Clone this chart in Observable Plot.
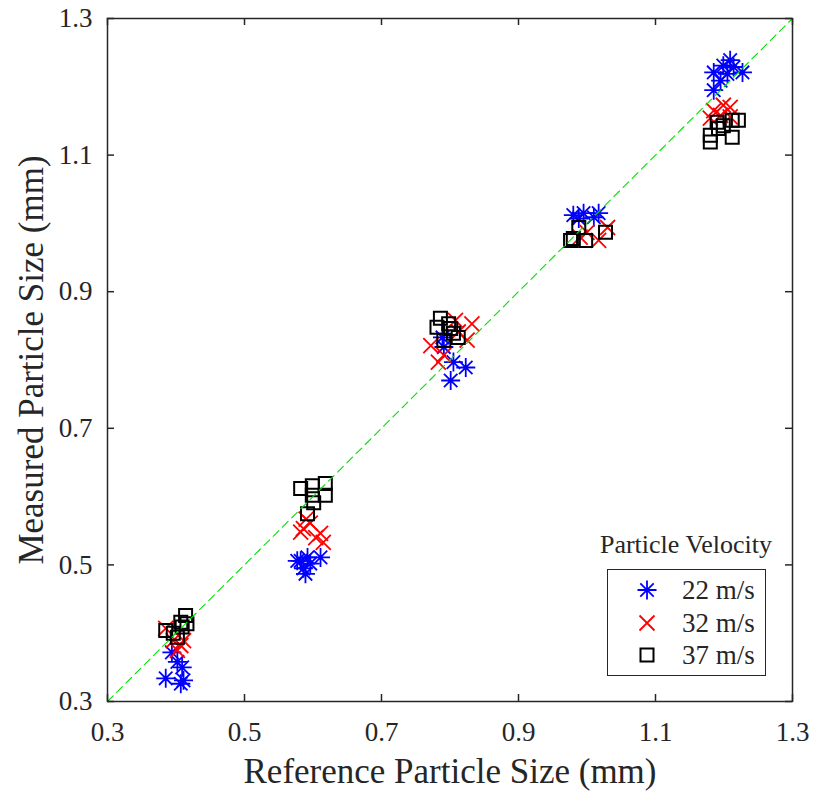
<!DOCTYPE html>
<html>
<head>
<meta charset="utf-8">
<script src="https://cdn.jsdelivr.net/npm/d3@7"></script>
<script src="https://cdn.jsdelivr.net/npm/@observablehq/plot@0.6"></script>
<style>
  body { margin: 0; background: #fff; }
  #chart { position: relative; width: 815px; height: 800px; }
</style>
</head>
<body>
<div id="chart"></div>
<script>
// ---- Data ----
const ticks = [0.3, 0.5, 0.7, 0.9, 1.1, 1.3];
const seriesNames = ["22 m/s", "32 m/s", "37 m/s"];
const seriesColors = ["#0000ff", "#ff0000", "#000000"];

const ref22  = [0.385,0.409,0.407,0.411,0.394,0.402, 0.582,0.586,0.611,0.592,0.596,0.577,0.589, 0.801,0.823,0.805,0.791,0.789, 0.980,0.995,1.017,1.010,0.988, 1.185,1.209,1.227,1.199,1.195,1.185,1.214,1.205];
const meas22 = [0.334,0.350,0.326,0.331,0.372,0.358, 0.506,0.495,0.511,0.511,0.502,0.506,0.487, 0.770,0.789,0.797,0.819,0.833, 1.012,1.015,1.015,1.009,1.007, 1.221,1.239,1.221,1.231,1.209,1.195,1.229,1.219];

const ref32  = [0.407,0.396,0.385,0.411,0.402, 0.586,0.611,0.615,0.596,0.582,0.604,0.590, 0.772,0.783,0.808,0.832,0.825,0.791,0.812, 1.000,1.017,1.030,0.990, 1.185,1.199,1.209,1.180,1.209,1.195];
const meas32 = [0.382,0.389,0.407,0.389,0.375, 0.553,0.546,0.533,0.561,0.548,0.540,0.567, 0.821,0.797,0.858,0.853,0.829,0.807,0.841, 0.987,0.975,0.994,0.980, 1.165,1.173,1.170,1.154,1.156,1.158];

const ref37  = [0.385,0.396,0.407,0.414,0.409,0.402,0.416, 0.582,0.599,0.618,0.618,0.601,0.592,0.599, 0.786,0.781,0.798,0.805,0.791,0.812,0.801, 0.980,0.988,0.998,1.027,0.976, 1.190,1.212,1.180,1.180,1.192,1.212,1.221,1.199];
const meas37 = [0.404,0.400,0.416,0.426,0.409,0.394,0.414, 0.612,0.616,0.619,0.602,0.591,0.575,0.602, 0.861,0.848,0.853,0.839,0.829,0.833,0.846, 0.978,0.994,0.975,0.987,0.975, 1.148,1.151,1.129,1.119,1.139,1.126,1.151,1.143];

const diagonal = [0.3, 1.3];

// ---- Marker symbols (MATLAB-like) ----
const asterisk = {draw(ctx, size) {
  const r = Math.sqrt(size / Math.PI), d = r * Math.SQRT1_2;
  ctx.moveTo(-r, 0); ctx.lineTo(r, 0);
  ctx.moveTo(0, -r); ctx.lineTo(0, r);
  ctx.moveTo(-d, -d); ctx.lineTo(d, d);
  ctx.moveTo(-d, d); ctx.lineTo(d, -d);
}};
const cross = {draw(ctx, size) {
  const r = Math.sqrt(size / Math.PI);
  ctx.moveTo(-r, -r); ctx.lineTo(r, r);
  ctx.moveTo(-r, r); ctx.lineTo(r, -r);
}};
const square = {draw(ctx, size) {
  const r = Math.sqrt(size / Math.PI);
  ctx.moveTo(-r, -r); ctx.lineTo(r, -r); ctx.lineTo(r, r); ctx.lineTo(-r, r); ctx.closePath();
}};
const symbols = [asterisk, cross, square];
const radii = [9.5, 7.5, 6.5];
const widths = [1.8, 1.8, 2];

const toPts = (xs, ys) => xs.map((x, i) => ({x, y: ys[i]}));
const data = [toPts(ref22, meas22), toPts(ref32, meas32), toPts(ref37, meas37)];

const font = "'Liberation Serif', 'Times New Roman', serif";
const ink = "#262626";
const TICK = 7;
const W = 815, H = 800, ML = 107, MR = 23, MT = 18, MB = 99;
const plotW = W - ML - MR, plotH = H - MT - MB;

const chart = Plot.plot({
  width: W, height: H,
  marginLeft: ML, marginRight: MR, marginTop: MT, marginBottom: MB,
  style: {fontFamily: font, color: ink, background: "white"},
  x: {domain: [0.3, 1.3]},
  y: {domain: [0.3, 1.3]},
  marks: [
    ...data.map((pts, i) => Plot.dot(pts, {
      x: "x", y: "y", symbol: () => symbols[i], r: radii[i],
      fill: "none", stroke: seriesColors[i], strokeWidth: widths[i]
    })),
    Plot.line(diagonal.map(v => ({x: v, y: v})), {x: "x", y: "y", stroke: "#00e000", strokeWidth: 1.1, strokeDasharray: "8,5"}),
    // inward ticks on all four sides
    Plot.ruleX(ticks, {x: d => d, insetTop: plotH - TICK, stroke: ink, strokeWidth: 1.5}),
    Plot.ruleX(ticks, {x: d => d, insetBottom: plotH - TICK, stroke: ink, strokeWidth: 1.5}),
    Plot.ruleY(ticks, {y: d => d, insetRight: plotW - TICK, stroke: ink, strokeWidth: 1.5}),
    Plot.ruleY(ticks, {y: d => d, insetLeft: plotW - TICK, stroke: ink, strokeWidth: 1.5}),
    Plot.axisX({ticks, tickSize: 0, tickPadding: 20, tickFormat: d3.format(".1f"), fontSize: 27, label: null, fill: ink}),
    Plot.axisY({ticks, tickSize: 0, tickPadding: 15, tickFormat: d3.format(".1f"), fontSize: 27, label: null, fill: ink}),
    Plot.text(["Reference Particle Size (mm)"], {frameAnchor: "bottom", textAnchor: "middle", lineAnchor: "bottom", dy: 81, fontSize: 35, fill: ink}),
    Plot.text(["Measured Particle Size (mm)"], {frameAnchor: "left", textAnchor: "middle", lineAnchor: "bottom", rotate: -90, dx: -65, fontSize: 35, fill: ink}),
    Plot.frame({stroke: ink, strokeWidth: 1.5})
  ]
});

document.getElementById("chart").appendChild(chart);

// ---- Legend (inside the axes, bottom-right) ----
const svg = d3.select(chart);
const lg = svg.append("g").attr("font-family", font).attr("fill", ink);
lg.append("text").attr("x", 686).attr("y", 553).attr("text-anchor", "middle")
  .attr("font-size", 26).text("Particle Velocity");
lg.append("rect").attr("x", 607.5).attr("y", 569.5).attr("width", 158).attr("height", 106)
  .attr("fill", "white").attr("stroke", ink).attr("stroke-width", 1);
const rowsY = [590, 623, 655];
seriesNames.forEach((name, i) => {
  lg.append("path")
    .attr("transform", `translate(647,${rowsY[i]})`)
    .attr("d", d3.symbol(symbols[i], Math.PI * radii[i] * radii[i])())
    .attr("fill", "none").attr("stroke", seriesColors[i]).attr("stroke-width", widths[i]);
  lg.append("text").attr("x", 682).attr("y", rowsY[i] + 9).attr("text-anchor", "start")
    .attr("font-size", 27).text(name);
});
</script>
</body>
</html>
